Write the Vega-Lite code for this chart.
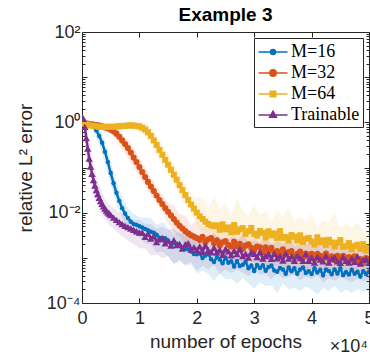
{
  "$schema": "https://vega.github.io/schema/vega-lite/v6.json",
  "width": 287,
  "height": 271,
  "autosize": {"type": "none"},
  "padding": {"left": 82, "top": 32, "right": 1, "bottom": 53},
  "background": "white",
  "title": {"text": "Example 3", "fontSize": 19, "font": "Liberation Sans", "fontWeight": "bold", "color": "#000000", "offset": -2},
  "config": {
    "view": {"stroke": "#262626", "strokeWidth": 1},
    "axis": {"domainColor": "#262626", "tickColor": "#262626", "labelColor": "#262626", "titleColor": "#262626", "labelFont": "Liberation Sans", "titleFont": "Liberation Sans", "grid": false, "labelFontSize": 18, "titleFontSize": 19, "titleFontWeight": "normal"},
    "legend": {"orient": "top-right", "offset": 6, "title": null, "strokeColor": "#262626", "fillColor": "white", "padding": 3, "cornerRadius": 0,
      "labelFont": "Liberation Serif", "labelFontSize": 18, "labelColor": "#000000", "labelOffset": 12, "rowPadding": 1, "symbolSize": 400, "symbolStrokeWidth": 1.5, "symbolOpacity": 1}
  },
  "datasets": {
    "main": [
      {"s":"M=16","x":0,"y":1.0},{"s":"M=16","x":500,"y":0.955},{"s":"M=16","x":1000,"y":0.912},{"s":"M=16","x":1500,"y":0.871},{"s":"M=16","x":2000,"y":0.794},{"s":"M=16","x":2500,"y":0.661},{"s":"M=16","x":3000,"y":0.501},{"s":"M=16","x":3500,"y":0.355},{"s":"M=16","x":4000,"y":0.224},{"s":"M=16","x":4500,"y":0.132},{"s":"M=16","x":5000,"y":0.0759},{"s":"M=16","x":5500,"y":0.0447},{"s":"M=16","x":6000,"y":0.0275},{"s":"M=16","x":6500,"y":0.0182},{"s":"M=16","x":7000,"y":0.0126},{"s":"M=16","x":7500,"y":0.00955},{"s":"M=16","x":8000,"y":0.00759},{"s":"M=16","x":8500,"y":0.00631},{"s":"M=16","x":9000,"y":0.00562},{"s":"M=16","x":9500,"y":0.00537},{"s":"M=16","x":10000,"y":0.00501},{"s":"M=16","x":10500,"y":0.00468},{"s":"M=16","x":11000,"y":0.00437},{"s":"M=16","x":11500,"y":0.00407},{"s":"M=16","x":12000,"y":0.0038},{"s":"M=16","x":12500,"y":0.0036},{"s":"M=16","x":13000,"y":0.00324},{"s":"M=16","x":13500,"y":0.0028},{"s":"M=16","x":14000,"y":0.00275},{"s":"M=16","x":14500,"y":0.0027},{"s":"M=16","x":15000,"y":0.0024},{"s":"M=16","x":15500,"y":0.0021},{"s":"M=16","x":16000,"y":0.00209},{"s":"M=16","x":16500,"y":0.00205},{"s":"M=16","x":17000,"y":0.00182},{"s":"M=16","x":17500,"y":0.0016},{"s":"M=16","x":18000,"y":0.00158},{"s":"M=16","x":18500,"y":0.00155},{"s":"M=16","x":19000,"y":0.00138},{"s":"M=16","x":19500,"y":0.00122},{"s":"M=16","x":20000,"y":0.0012},
      {"s":"M=16","x":20500,"y":0.00126},{"s":"M=16","x":21000,"y":0.000989},{"s":"M=16","x":21500,"y":0.00112},{"s":"M=16","x":22000,"y":0.00122},{"s":"M=16","x":22500,"y":0.000933},{"s":"M=16","x":23000,"y":0.000804},{"s":"M=16","x":23500,"y":0.00105},{"s":"M=16","x":24000,"y":0.000923},{"s":"M=16","x":24500,"y":0.000759},{"s":"M=16","x":25000,"y":0.00102},{"s":"M=16","x":25500,"y":0.000776},{"s":"M=16","x":26000,"y":0.000841},{"s":"M=16","x":26500,"y":0.000646},{"s":"M=16","x":27000,"y":0.000851},{"s":"M=16","x":27500,"y":0.000661},{"s":"M=16","x":28000,"y":0.0007},{"s":"M=16","x":28500,"y":0.000822},{"s":"M=16","x":29000,"y":0.000589},{"s":"M=16","x":29500,"y":0.000676},{"s":"M=16","x":30000,"y":0.000513},{"s":"M=16","x":30500,"y":0.000697},{"s":"M=16","x":31000,"y":0.000597},{"s":"M=16","x":31500,"y":0.00069},{"s":"M=16","x":32000,"y":0.000515},{"s":"M=16","x":32500,"y":0.000624},{"s":"M=16","x":33000,"y":0.000673},{"s":"M=16","x":33500,"y":0.000526},{"s":"M=16","x":34000,"y":0.000494},{"s":"M=16","x":34500,"y":0.000598},{"s":"M=16","x":35000,"y":0.00055},{"s":"M=16","x":35500,"y":0.000444},{"s":"M=16","x":36000,"y":0.000608},{"s":"M=16","x":36500,"y":0.000502},{"s":"M=16","x":37000,"y":0.000586},{"s":"M=16","x":37500,"y":0.000442},{"s":"M=16","x":38000,"y":0.000552},{"s":"M=16","x":38500,"y":0.000615},{"s":"M=16","x":39000,"y":0.000463},{"s":"M=16","x":39500,"y":0.000505},{"s":"M=16","x":40000,"y":0.000437},{"s":"M=16","x":40500,"y":0.000586},{"s":"M=16","x":41000,"y":0.000474},{"s":"M=16","x":41500,"y":0.000542},{"s":"M=16","x":42000,"y":0.000409},{"s":"M=16","x":42500,"y":0.00055},{"s":"M=16","x":43000,"y":0.00051},{"s":"M=16","x":43500,"y":0.000433},{"s":"M=16","x":44000,"y":0.000555},{"s":"M=16","x":44500,"y":0.000449},{"s":"M=16","x":45000,"y":0.000589},{"s":"M=16","x":45500,"y":0.000414},{"s":"M=16","x":46000,"y":0.000483},{"s":"M=16","x":46500,"y":0.000428},{"s":"M=16","x":47000,"y":0.000547},{"s":"M=16","x":47500,"y":0.000442},{"s":"M=16","x":48000,"y":0.000492},{"s":"M=16","x":48500,"y":0.000388},{"s":"M=16","x":49000,"y":0.000508},{"s":"M=16","x":49500,"y":0.00044},{"s":"M=16","x":50000,"y":0.00049},

      {"s":"M=32","x":0,"y":1.0},{"s":"M=32","x":500,"y":0.955},{"s":"M=32","x":1000,"y":0.933},{"s":"M=32","x":1500,"y":0.912},{"s":"M=32","x":2000,"y":0.891},{"s":"M=32","x":2500,"y":0.871},{"s":"M=32","x":3000,"y":0.851},{"s":"M=32","x":3500,"y":0.813},{"s":"M=32","x":4000,"y":0.776},{"s":"M=32","x":4500,"y":0.741},{"s":"M=32","x":5000,"y":0.692},{"s":"M=32","x":5500,"y":0.631},{"s":"M=32","x":6000,"y":0.562},{"s":"M=32","x":6500,"y":0.479},{"s":"M=32","x":7000,"y":0.398},{"s":"M=32","x":7500,"y":0.331},{"s":"M=32","x":8000,"y":0.269},{"s":"M=32","x":8500,"y":0.214},{"s":"M=32","x":9000,"y":0.166},{"s":"M=32","x":9500,"y":0.132},{"s":"M=32","x":10000,"y":0.102},{"s":"M=32","x":10500,"y":0.0794},{"s":"M=32","x":11000,"y":0.0617},{"s":"M=32","x":11500,"y":0.0479},{"s":"M=32","x":12000,"y":0.038},{"s":"M=32","x":12500,"y":0.0302},{"s":"M=32","x":13000,"y":0.024},{"s":"M=32","x":13500,"y":0.0191},{"s":"M=32","x":14000,"y":0.0155},{"s":"M=32","x":14500,"y":0.0126},{"s":"M=32","x":15000,"y":0.0105},{"s":"M=32","x":15500,"y":0.0087},{"s":"M=32","x":16000,"y":0.00724},{"s":"M=32","x":16500,"y":0.00603},{"s":"M=32","x":17000,"y":0.00513},{"s":"M=32","x":17500,"y":0.00447},{"s":"M=32","x":18000,"y":0.00389},{"s":"M=32","x":18500,"y":0.00347},{"s":"M=32","x":19000,"y":0.00316},{"s":"M=32","x":19500,"y":0.00295},{"s":"M=32","x":20000,"y":0.00275},
      {"s":"M=32","x":20500,"y":0.0025},{"s":"M=32","x":21000,"y":0.00292},{"s":"M=32","x":21500,"y":0.00221},{"s":"M=32","x":22000,"y":0.00258},{"s":"M=32","x":22500,"y":0.00275},{"s":"M=32","x":23000,"y":0.00213},{"s":"M=32","x":23500,"y":0.00243},{"s":"M=32","x":24000,"y":0.00188},{"s":"M=32","x":24500,"y":0.0022},{"s":"M=32","x":25000,"y":0.00234},{"s":"M=32","x":25500,"y":0.00195},{"s":"M=32","x":26000,"y":0.00178},{"s":"M=32","x":26500,"y":0.00229},{"s":"M=32","x":27000,"y":0.00178},{"s":"M=32","x":27500,"y":0.00204},{"s":"M=32","x":28000,"y":0.00158},{"s":"M=32","x":28500,"y":0.00186},{"s":"M=32","x":29000,"y":0.002},{"s":"M=32","x":29500,"y":0.00166},{"s":"M=32","x":30000,"y":0.00148},{"s":"M=32","x":30500,"y":0.00178},{"s":"M=32","x":31000,"y":0.0017},{"s":"M=32","x":31500,"y":0.00132},{"s":"M=32","x":32000,"y":0.0017},{"s":"M=32","x":32500,"y":0.00141},{"s":"M=32","x":33000,"y":0.00166},{"s":"M=32","x":33500,"y":0.00129},{"s":"M=32","x":34000,"y":0.00141},{"s":"M=32","x":34500,"y":0.00117},{"s":"M=32","x":35000,"y":0.00155},{"s":"M=32","x":35500,"y":0.00121},{"s":"M=32","x":36000,"y":0.00134},{"s":"M=32","x":36500,"y":0.00141},{"s":"M=32","x":37000,"y":0.0011},{"s":"M=32","x":37500,"y":0.00122},{"s":"M=32","x":38000,"y":0.00137},{"s":"M=32","x":38500,"y":0.001},{"s":"M=32","x":39000,"y":0.00124},{"s":"M=32","x":39500,"y":0.00109},{"s":"M=32","x":40000,"y":0.00123},{"s":"M=32","x":40500,"y":0.000966},{"s":"M=32","x":41000,"y":0.00123},{"s":"M=32","x":41500,"y":0.00111},{"s":"M=32","x":42000,"y":0.000977},{"s":"M=32","x":42500,"y":0.00124},{"s":"M=32","x":43000,"y":0.000977},{"s":"M=32","x":43500,"y":0.00108},{"s":"M=32","x":44000,"y":0.000891},{"s":"M=32","x":44500,"y":0.00111},{"s":"M=32","x":45000,"y":0.000977},{"s":"M=32","x":45500,"y":0.00111},{"s":"M=32","x":46000,"y":0.000871},{"s":"M=32","x":46500,"y":0.00104},{"s":"M=32","x":47000,"y":0.000912},{"s":"M=32","x":47500,"y":0.00108},{"s":"M=32","x":48000,"y":0.000851},{"s":"M=32","x":48500,"y":0.000944},{"s":"M=32","x":49000,"y":0.000776},{"s":"M=32","x":49500,"y":0.000989},{"s":"M=32","x":50000,"y":0.000933},

      {"s":"M=64","x":0,"y":1.0},{"s":"M=64","x":500,"y":0.933},{"s":"M=64","x":1000,"y":0.891},{"s":"M=64","x":1500,"y":0.851},{"s":"M=64","x":2000,"y":0.832},{"s":"M=64","x":2500,"y":0.813},{"s":"M=64","x":3000,"y":0.794},{"s":"M=64","x":3500,"y":0.794},{"s":"M=64","x":4000,"y":0.794},{"s":"M=64","x":4500,"y":0.794},{"s":"M=64","x":5000,"y":0.794},{"s":"M=64","x":5500,"y":0.794},{"s":"M=64","x":6000,"y":0.813},{"s":"M=64","x":6500,"y":0.813},{"s":"M=64","x":7000,"y":0.832},{"s":"M=64","x":7500,"y":0.832},{"s":"M=64","x":8000,"y":0.851},{"s":"M=64","x":8500,"y":0.851},{"s":"M=64","x":9000,"y":0.851},{"s":"M=64","x":9500,"y":0.832},{"s":"M=64","x":10000,"y":0.813},{"s":"M=64","x":10500,"y":0.759},{"s":"M=64","x":11000,"y":0.692},{"s":"M=64","x":11500,"y":0.603},{"s":"M=64","x":12000,"y":0.501},{"s":"M=64","x":12500,"y":0.398},{"s":"M=64","x":13000,"y":0.316},{"s":"M=64","x":13500,"y":0.245},{"s":"M=64","x":14000,"y":0.191},{"s":"M=64","x":14500,"y":0.148},{"s":"M=64","x":15000,"y":0.115},{"s":"M=64","x":15500,"y":0.0891},{"s":"M=64","x":16000,"y":0.0692},{"s":"M=64","x":16500,"y":0.0537},{"s":"M=64","x":17000,"y":0.0407},{"s":"M=64","x":17500,"y":0.0316},{"s":"M=64","x":18000,"y":0.0245},{"s":"M=64","x":18500,"y":0.0191},{"s":"M=64","x":19000,"y":0.0151},{"s":"M=64","x":19500,"y":0.0123},{"s":"M=64","x":20000,"y":0.01},{"s":"M=64","x":20500,"y":0.00832},{"s":"M=64","x":21000,"y":0.00724},{"s":"M=64","x":21500,"y":0.00631},{"s":"M=64","x":22000,"y":0.00562},{"s":"M=64","x":22500,"y":0.00525},{"s":"M=64","x":23000,"y":0.00501},
      {"s":"M=64","x":23500,"y":0.00525},{"s":"M=64","x":24000,"y":0.00418},{"s":"M=64","x":24500,"y":0.00552},{"s":"M=64","x":25000,"y":0.0043},{"s":"M=64","x":25500,"y":0.00472},{"s":"M=64","x":26000,"y":0.00367},{"s":"M=64","x":26500,"y":0.00532},{"s":"M=64","x":27000,"y":0.00378},{"s":"M=64","x":27500,"y":0.00425},{"s":"M=64","x":28000,"y":0.00456},{"s":"M=64","x":28500,"y":0.00339},{"s":"M=64","x":29000,"y":0.0039},{"s":"M=64","x":29500,"y":0.00459},{"s":"M=64","x":30000,"y":0.00341},{"s":"M=64","x":30500,"y":0.00312},{"s":"M=64","x":31000,"y":0.00394},{"s":"M=64","x":31500,"y":0.0036},{"s":"M=64","x":32000,"y":0.0028},{"s":"M=64","x":32500,"y":0.00387},{"s":"M=64","x":33000,"y":0.00315},{"s":"M=64","x":33500,"y":0.00347},{"s":"M=64","x":34000,"y":0.00276},{"s":"M=64","x":34500,"y":0.00391},{"s":"M=64","x":35000,"y":0.00277},{"s":"M=64","x":35500,"y":0.00291},{"s":"M=64","x":36000,"y":0.00243},{"s":"M=64","x":36500,"y":0.00321},{"s":"M=64","x":37000,"y":0.00293},{"s":"M=64","x":37500,"y":0.00244},{"s":"M=64","x":38000,"y":0.00315},{"s":"M=64","x":38500,"y":0.00224},{"s":"M=64","x":39000,"y":0.00264},{"s":"M=64","x":39500,"y":0.00277},{"s":"M=64","x":40000,"y":0.00231},{"s":"M=64","x":40500,"y":0.00197},{"s":"M=64","x":41000,"y":0.00285},{"s":"M=64","x":41500,"y":0.00222},{"s":"M=64","x":42000,"y":0.00244},{"s":"M=64","x":42500,"y":0.00194},{"s":"M=64","x":43000,"y":0.00251},{"s":"M=64","x":43500,"y":0.00219},{"s":"M=64","x":44000,"y":0.00178},{"s":"M=64","x":44500,"y":0.00215},{"s":"M=64","x":45000,"y":0.00247},{"s":"M=64","x":45500,"y":0.00175},{"s":"M=64","x":46000,"y":0.0018},{"s":"M=64","x":46500,"y":0.00212},{"s":"M=64","x":47000,"y":0.00154},{"s":"M=64","x":47500,"y":0.00181},{"s":"M=64","x":48000,"y":0.00195},{"s":"M=64","x":48500,"y":0.00158},{"s":"M=64","x":49000,"y":0.002},{"s":"M=64","x":49500,"y":0.00145},{"s":"M=64","x":50000,"y":0.00167},

      {"s":"Trainable","x":0,"y":1.318},{"s":"Trainable","x":250,"y":1.202},{"s":"Trainable","x":500,"y":0.794},{"s":"Trainable","x":750,"y":0.447},{"s":"Trainable","x":1000,"y":0.263},{"s":"Trainable","x":1250,"y":0.158},{"s":"Trainable","x":1500,"y":0.105},{"s":"Trainable","x":1750,"y":0.0724},{"s":"Trainable","x":2000,"y":0.0525},{"s":"Trainable","x":2250,"y":0.0398},{"s":"Trainable","x":2500,"y":0.0316},{"s":"Trainable","x":2750,"y":0.0257},{"s":"Trainable","x":3000,"y":0.0214},{"s":"Trainable","x":3250,"y":0.0182},{"s":"Trainable","x":3500,"y":0.0158},{"s":"Trainable","x":3750,"y":0.0138},{"s":"Trainable","x":4000,"y":0.0123},{"s":"Trainable","x":4250,"y":0.0112},{"s":"Trainable","x":4500,"y":0.0102},{"s":"Trainable","x":4750,"y":0.00955},{"s":"Trainable","x":5000,"y":0.00891},{"s":"Trainable","x":5500,"y":0.00776},{"s":"Trainable","x":6000,"y":0.00692},{"s":"Trainable","x":6500,"y":0.00617},{"s":"Trainable","x":7000,"y":0.00562},{"s":"Trainable","x":7500,"y":0.00513},{"s":"Trainable","x":8000,"y":0.00479},{"s":"Trainable","x":8500,"y":0.00447},{"s":"Trainable","x":9000,"y":0.00417},{"s":"Trainable","x":9500,"y":0.00389},{"s":"Trainable","x":10000,"y":0.00363},
      {"s":"Trainable","x":10500,"y":0.00365},{"s":"Trainable","x":11000,"y":0.00292},{"s":"Trainable","x":11500,"y":0.00344},{"s":"Trainable","x":12000,"y":0.00269},{"s":"Trainable","x":12500,"y":0.00302},{"s":"Trainable","x":13000,"y":0.00224},{"s":"Trainable","x":13500,"y":0.00257},{"s":"Trainable","x":14000,"y":0.00275},{"s":"Trainable","x":14500,"y":0.00211},{"s":"Trainable","x":15000,"y":0.0024},{"s":"Trainable","x":15500,"y":0.00188},{"s":"Trainable","x":16000,"y":0.00245},{"s":"Trainable","x":16500,"y":0.00193},{"s":"Trainable","x":17000,"y":0.00204},{"s":"Trainable","x":17500,"y":0.0016},{"s":"Trainable","x":18000,"y":0.002},{"s":"Trainable","x":18500,"y":0.00212},{"s":"Trainable","x":19000,"y":0.00153},{"s":"Trainable","x":19500,"y":0.00171},{"s":"Trainable","x":20000,"y":0.00148},{"s":"Trainable","x":20500,"y":0.00179},{"s":"Trainable","x":21000,"y":0.00136},{"s":"Trainable","x":21500,"y":0.00189},{"s":"Trainable","x":22000,"y":0.00147},{"s":"Trainable","x":22500,"y":0.00132},{"s":"Trainable","x":23000,"y":0.00167},{"s":"Trainable","x":23500,"y":0.00133},{"s":"Trainable","x":24000,"y":0.0015},{"s":"Trainable","x":24500,"y":0.00117},{"s":"Trainable","x":25000,"y":0.00158},{"s":"Trainable","x":25500,"y":0.00139},{"s":"Trainable","x":26000,"y":0.00114},{"s":"Trainable","x":26500,"y":0.00144},{"s":"Trainable","x":27000,"y":0.00121},{"s":"Trainable","x":27500,"y":0.00157},{"s":"Trainable","x":28000,"y":0.00109},{"s":"Trainable","x":28500,"y":0.00123},{"s":"Trainable","x":29000,"y":0.00101},{"s":"Trainable","x":29500,"y":0.00134},{"s":"Trainable","x":30000,"y":0.00123},{"s":"Trainable","x":30500,"y":0.00104},{"s":"Trainable","x":31000,"y":0.00135},{"s":"Trainable","x":31500,"y":0.000966},{"s":"Trainable","x":32000,"y":0.0011},{"s":"Trainable","x":32500,"y":0.00122},{"s":"Trainable","x":33000,"y":0.000955},{"s":"Trainable","x":33500,"y":0.00124},{"s":"Trainable","x":34000,"y":0.000977},{"s":"Trainable","x":34500,"y":0.00108},{"s":"Trainable","x":35000,"y":0.000871},{"s":"Trainable","x":35500,"y":0.00125},{"s":"Trainable","x":36000,"y":0.000959},{"s":"Trainable","x":36500,"y":0.00109},{"s":"Trainable","x":37000,"y":0.000859},{"s":"Trainable","x":37500,"y":0.00112},{"s":"Trainable","x":38000,"y":0.000991},{"s":"Trainable","x":38500,"y":0.000855},{"s":"Trainable","x":39000,"y":0.00122},{"s":"Trainable","x":39500,"y":0.000859},{"s":"Trainable","x":40000,"y":0.001},{"s":"Trainable","x":40500,"y":0.000791},{"s":"Trainable","x":41000,"y":0.00104},{"s":"Trainable","x":41500,"y":0.00092},{"s":"Trainable","x":42000,"y":0.000836},{"s":"Trainable","x":42500,"y":0.0011},{"s":"Trainable","x":43000,"y":0.000791},{"s":"Trainable","x":43500,"y":0.000946},{"s":"Trainable","x":44000,"y":0.00103},{"s":"Trainable","x":44500,"y":0.000836},{"s":"Trainable","x":45000,"y":0.000776},{"s":"Trainable","x":45500,"y":0.00104},{"s":"Trainable","x":46000,"y":0.000863},{"s":"Trainable","x":46500,"y":0.000783},{"s":"Trainable","x":47000,"y":0.000982},{"s":"Trainable","x":47500,"y":0.000813},{"s":"Trainable","x":48000,"y":0.00107},{"s":"Trainable","x":48500,"y":0.000752},{"s":"Trainable","x":49000,"y":0.0009},{"s":"Trainable","x":49500,"y":0.000938},{"s":"Trainable","x":50000,"y":0.000776}
    ],
    "band": [
      {"s":"M=16","x":0,"lo":0.912,"hi":1.096},{"s":"M=16","x":1000,"lo":0.813,"hi":1.023},{"s":"M=16","x":2000,"lo":0.661,"hi":0.955},{"s":"M=16","x":3000,"lo":0.316,"hi":0.759},{"s":"M=16","x":4000,"lo":0.126,"hi":0.38},{"s":"M=16","x":5000,"lo":0.0417,"hi":0.138},{"s":"M=16","x":6000,"lo":0.0158,"hi":0.0501},{"s":"M=16","x":7000,"lo":0.00759,"hi":0.0219},{"s":"M=16","x":8000,"lo":0.00447,"hi":0.0126},{"s":"M=16","x":9000,"lo":0.00339,"hi":0.00955},{"s":"M=16","x":10000,"lo":0.00282,"hi":0.00794},{"s":"M=16","x":11000,"lo":0.00209,"hi":0.00776},{"s":"M=16","x":12000,"lo":0.002,"hi":0.00759},{"s":"M=16","x":13000,"lo":0.00129,"hi":0.00537},{"s":"M=16","x":14000,"lo":0.00138,"hi":0.00617},{"s":"M=16","x":15000,"lo":0.00107,"hi":0.00457},{"s":"M=16","x":16000,"lo":0.000741,"hi":0.00331},{"s":"M=16","x":17000,"lo":0.000912,"hi":0.0038},{"s":"M=16","x":18000,"lo":0.000661,"hi":0.00288},{"s":"M=16","x":19000,"lo":0.000724,"hi":0.00347},{"s":"M=16","x":20000,"lo":0.000457,"hi":0.00209},{"s":"M=16","x":21000,"lo":0.000519,"hi":0.00221},{"s":"M=16","x":22000,"lo":0.000452,"hi":0.00172},{"s":"M=16","x":23000,"lo":0.000305,"hi":0.00221},{"s":"M=16","x":24000,"lo":0.000452,"hi":0.00172},{"s":"M=16","x":25000,"lo":0.000331,"hi":0.00148},{"s":"M=16","x":26000,"lo":0.000351,"hi":0.00207},{"s":"M=16","x":27000,"lo":0.000263,"hi":0.00148},{"s":"M=16","x":28000,"lo":0.000351,"hi":0.00122},{"s":"M=16","x":29000,"lo":0.000275,"hi":0.00145},{"s":"M=16","x":30000,"lo":0.000209,"hi":0.00117},{"s":"M=16","x":31000,"lo":0.000286,"hi":0.00147},{"s":"M=16","x":32000,"lo":0.000236,"hi":0.000982},{"s":"M=16","x":33000,"lo":0.00025,"hi":0.00117},{"s":"M=16","x":34000,"lo":0.000167,"hi":0.00106},{"s":"M=16","x":35000,"lo":0.000269,"hi":0.00151},{"s":"M=16","x":36000,"lo":0.000201,"hi":0.000942},{"s":"M=16","x":37000,"lo":0.000218,"hi":0.00104},{"s":"M=16","x":38000,"lo":0.000183,"hi":0.00115},{"s":"M=16","x":39000,"lo":0.000232,"hi":0.000883},{"s":"M=16","x":40000,"lo":0.0002,"hi":0.00126},{"s":"M=16","x":41000,"lo":0.000157,"hi":0.000946},{"s":"M=16","x":42000,"lo":0.000215,"hi":0.00105},{"s":"M=16","x":43000,"lo":0.000185,"hi":0.000887},{"s":"M=16","x":44000,"lo":0.000242,"hi":0.00116},{"s":"M=16","x":45000,"lo":0.000166,"hi":0.000955},{"s":"M=16","x":46000,"lo":0.000197,"hi":0.000839},{"s":"M=16","x":47000,"lo":0.000169,"hi":0.00122},{"s":"M=16","x":48000,"lo":0.000205,"hi":0.000875},{"s":"M=16","x":49000,"lo":0.00018,"hi":0.000946},{"s":"M=16","x":50000,"lo":0.000195,"hi":0.000891},

      {"s":"M=32","x":0,"lo":0.891,"hi":1.122},{"s":"M=32","x":1000,"lo":0.832,"hi":1.047},{"s":"M=32","x":2000,"lo":0.776,"hi":1.023},{"s":"M=32","x":3000,"lo":0.724,"hi":1.0},{"s":"M=32","x":4000,"lo":0.631,"hi":0.933},{"s":"M=32","x":5000,"lo":0.525,"hi":0.871},{"s":"M=32","x":6000,"lo":0.38,"hi":0.759},{"s":"M=32","x":7000,"lo":0.251,"hi":0.575},{"s":"M=32","x":8000,"lo":0.158,"hi":0.417},{"s":"M=32","x":9000,"lo":0.1,"hi":0.263},{"s":"M=32","x":10000,"lo":0.0631,"hi":0.166},{"s":"M=32","x":11000,"lo":0.038,"hi":0.1},{"s":"M=32","x":12000,"lo":0.024,"hi":0.0603},{"s":"M=32","x":13000,"lo":0.0151,"hi":0.038},{"s":"M=32","x":14000,"lo":0.00977,"hi":0.0251},{"s":"M=32","x":15000,"lo":0.00589,"hi":0.0166},{"s":"M=32","x":16000,"lo":0.00363,"hi":0.0145},{"s":"M=32","x":17000,"lo":0.00309,"hi":0.00933},{"s":"M=32","x":18000,"lo":0.00174,"hi":0.0087},{"s":"M=32","x":19000,"lo":0.00166,"hi":0.00525},{"s":"M=32","x":20000,"lo":0.00138,"hi":0.00692},{"s":"M=32","x":21000,"lo":0.00104,"hi":0.00497},{"s":"M=32","x":22000,"lo":0.00139,"hi":0.00492},{"s":"M=32","x":23000,"lo":0.00112,"hi":0.00658},{"s":"M=32","x":24000,"lo":0.00116,"hi":0.00393},{"s":"M=32","x":25000,"lo":0.000912,"hi":0.00447},{"s":"M=32","x":26000,"lo":0.001,"hi":0.00398},{"s":"M=32","x":27000,"lo":0.00105,"hi":0.00603},{"s":"M=32","x":28000,"lo":0.000724,"hi":0.00339},{"s":"M=32","x":29000,"lo":0.000871,"hi":0.00389},{"s":"M=32","x":30000,"lo":0.000776,"hi":0.00331},{"s":"M=32","x":31000,"lo":0.000832,"hi":0.00417},{"s":"M=32","x":32000,"lo":0.000631,"hi":0.00288},{"s":"M=32","x":33000,"lo":0.000813,"hi":0.00331},{"s":"M=32","x":34000,"lo":0.000617,"hi":0.00275},{"s":"M=32","x":35000,"lo":0.000661,"hi":0.00398},{"s":"M=32","x":36000,"lo":0.000485,"hi":0.00232},{"s":"M=32","x":37000,"lo":0.000649,"hi":0.0027},{"s":"M=32","x":38000,"lo":0.000573,"hi":0.00239},{"s":"M=32","x":39000,"lo":0.000506,"hi":0.00291},{"s":"M=32","x":40000,"lo":0.000562,"hi":0.00214},{"s":"M=32","x":41000,"lo":0.000589,"hi":0.00263},{"s":"M=32","x":42000,"lo":0.000427,"hi":0.00224},{"s":"M=32","x":43000,"lo":0.000525,"hi":0.00288},{"s":"M=32","x":44000,"lo":0.000468,"hi":0.00204},{"s":"M=32","x":45000,"lo":0.000525,"hi":0.00224},{"s":"M=32","x":46000,"lo":0.000407,"hi":0.00182},{"s":"M=32","x":47000,"lo":0.000479,"hi":0.0024},{"s":"M=32","x":48000,"lo":0.000417,"hi":0.00186},{"s":"M=32","x":49000,"lo":0.000468,"hi":0.00209},{"s":"M=32","x":50000,"lo":0.000389,"hi":0.00191},

      {"s":"M=64","x":0,"lo":0.871,"hi":1.148},{"s":"M=64","x":1000,"lo":0.759,"hi":1.072},{"s":"M=64","x":2000,"lo":0.692,"hi":1.047},{"s":"M=64","x":3000,"lo":0.661,"hi":1.0},{"s":"M=64","x":4000,"lo":0.661,"hi":1.0},{"s":"M=64","x":5000,"lo":0.661,"hi":1.0},{"s":"M=64","x":6000,"lo":0.676,"hi":1.023},{"s":"M=64","x":7000,"lo":0.692,"hi":1.047},{"s":"M=64","x":8000,"lo":0.708,"hi":1.072},{"s":"M=64","x":9000,"lo":0.692,"hi":1.096},{"s":"M=64","x":10000,"lo":0.631,"hi":1.072},{"s":"M=64","x":11000,"lo":0.479,"hi":1.0},{"s":"M=64","x":12000,"lo":0.316,"hi":0.794},{"s":"M=64","x":13000,"lo":0.191,"hi":0.525},{"s":"M=64","x":14000,"lo":0.112,"hi":0.331},{"s":"M=64","x":15000,"lo":0.0661,"hi":0.2},{"s":"M=64","x":16000,"lo":0.0398,"hi":0.12},{"s":"M=64","x":17000,"lo":0.0234,"hi":0.0708},{"s":"M=64","x":18000,"lo":0.0141,"hi":0.0437},{"s":"M=64","x":19000,"lo":0.00891,"hi":0.0275},{"s":"M=64","x":20000,"lo":0.00562,"hi":0.02},{"s":"M=64","x":21000,"lo":0.00363,"hi":0.0229},{"s":"M=64","x":22000,"lo":0.00339,"hi":0.0126},{"s":"M=64","x":23000,"lo":0.00224,"hi":0.0224},{"s":"M=64","x":24000,"lo":0.00246,"hi":0.0118},{"s":"M=64","x":25000,"lo":0.00225,"hi":0.016},{"s":"M=64","x":26000,"lo":0.00243,"hi":0.00861},{"s":"M=64","x":27000,"lo":0.00198,"hi":0.0207},{"s":"M=64","x":28000,"lo":0.00208,"hi":0.0112},{"s":"M=64","x":29000,"lo":0.0017,"hi":0.00853},{"s":"M=64","x":30000,"lo":0.00201,"hi":0.0146},{"s":"M=64","x":31000,"lo":0.00176,"hi":0.00881},{"s":"M=64","x":32000,"lo":0.00194,"hi":0.0106},{"s":"M=64","x":33000,"lo":0.00151,"hi":0.00644},{"s":"M=64","x":34000,"lo":0.00163,"hi":0.011},{"s":"M=64","x":35000,"lo":0.00149,"hi":0.00838},{"s":"M=64","x":36000,"lo":0.00127,"hi":0.0127},{"s":"M=64","x":37000,"lo":0.0015,"hi":0.00612},{"s":"M=64","x":38000,"lo":0.00132,"hi":0.0083},{"s":"M=64","x":39000,"lo":0.00132,"hi":0.00632},{"s":"M=64","x":40000,"lo":0.0011,"hi":0.00962},{"s":"M=64","x":41000,"lo":0.0013,"hi":0.00462},{"s":"M=64","x":42000,"lo":0.00111,"hi":0.00703},{"s":"M=64","x":43000,"lo":0.00102,"hi":0.00601},{"s":"M=64","x":44000,"lo":0.0011,"hi":0.0103},{"s":"M=64","x":45000,"lo":0.000984,"hi":0.0044},{"s":"M=64","x":46000,"lo":0.000841,"hi":0.00596},{"s":"M=64","x":47000,"lo":0.000948,"hi":0.00454},{"s":"M=64","x":48000,"lo":0.000869,"hi":0.00615},{"s":"M=64","x":49000,"lo":0.000914,"hi":0.00372},{"s":"M=64","x":50000,"lo":0.000764,"hi":0.0045},

      {"s":"Trainable","x":0,"lo":1.047,"hi":1.66},{"s":"Trainable","x":1000,"lo":0.126,"hi":0.501},{"s":"Trainable","x":2000,"lo":0.0251,"hi":0.112},{"s":"Trainable","x":3000,"lo":0.0112,"hi":0.0398},{"s":"Trainable","x":4000,"lo":0.00708,"hi":0.02},{"s":"Trainable","x":5000,"lo":0.00501,"hi":0.0141},{"s":"Trainable","x":6000,"lo":0.00389,"hi":0.011},{"s":"Trainable","x":7000,"lo":0.00295,"hi":0.00933},{"s":"Trainable","x":8000,"lo":0.0024,"hi":0.00851},{"s":"Trainable","x":9000,"lo":0.002,"hi":0.00692},{"s":"Trainable","x":10000,"lo":0.00162,"hi":0.00692},{"s":"Trainable","x":11000,"lo":0.0016,"hi":0.00569},{"s":"Trainable","x":12000,"lo":0.00112,"hi":0.00562},{"s":"Trainable","x":13000,"lo":0.0012,"hi":0.00447},{"s":"Trainable","x":14000,"lo":0.000977,"hi":0.0049},{"s":"Trainable","x":15000,"lo":0.0011,"hi":0.00407},{"s":"Trainable","x":16000,"lo":0.000724,"hi":0.00457},{"s":"Trainable","x":17000,"lo":0.000851,"hi":0.00339},{"s":"Trainable","x":18000,"lo":0.000708,"hi":0.00355},{"s":"Trainable","x":19000,"lo":0.000804,"hi":0.00403},{"s":"Trainable","x":20000,"lo":0.000525,"hi":0.00288},{"s":"Trainable","x":21000,"lo":0.000667,"hi":0.00327},{"s":"Trainable","x":22000,"lo":0.00056,"hi":0.00281},{"s":"Trainable","x":23000,"lo":0.000711,"hi":0.00356},{"s":"Trainable","x":24000,"lo":0.000433,"hi":0.00273},{"s":"Trainable","x":25000,"lo":0.00055,"hi":0.0024},{"s":"Trainable","x":26000,"lo":0.000463,"hi":0.00286},{"s":"Trainable","x":27000,"lo":0.000552,"hi":0.00247},{"s":"Trainable","x":28000,"lo":0.000476,"hi":0.00315},{"s":"Trainable","x":29000,"lo":0.000393,"hi":0.00221},{"s":"Trainable","x":30000,"lo":0.000525,"hi":0.00245},{"s":"Trainable","x":31000,"lo":0.000417,"hi":0.00219},{"s":"Trainable","x":32000,"lo":0.000447,"hi":0.00257},{"s":"Trainable","x":33000,"lo":0.000331,"hi":0.00195},{"s":"Trainable","x":34000,"lo":0.000457,"hi":0.00234},{"s":"Trainable","x":35000,"lo":0.000355,"hi":0.002},{"s":"Trainable","x":36000,"lo":0.000391,"hi":0.00247},{"s":"Trainable","x":37000,"lo":0.000421,"hi":0.00184},{"s":"Trainable","x":38000,"lo":0.000313,"hi":0.00212},{"s":"Trainable","x":39000,"lo":0.000387,"hi":0.00194},{"s":"Trainable","x":40000,"lo":0.000339,"hi":0.00219},{"s":"Trainable","x":41000,"lo":0.000404,"hi":0.0018},{"s":"Trainable","x":42000,"lo":0.000283,"hi":0.00236},{"s":"Trainable","x":43000,"lo":0.000353,"hi":0.00169},{"s":"Trainable","x":44000,"lo":0.000312,"hi":0.00201},{"s":"Trainable","x":45000,"lo":0.00038,"hi":0.00174},{"s":"Trainable","x":46000,"lo":0.000328,"hi":0.00217},{"s":"Trainable","x":47000,"lo":0.000283,"hi":0.00183},{"s":"Trainable","x":48000,"lo":0.000353,"hi":0.00199},{"s":"Trainable","x":49000,"lo":0.000305,"hi":0.00167},{"s":"Trainable","x":50000,"lo":0.000331,"hi":0.00186}
    ],
    "note": [{"x": 50000, "y": 0.0001, "t": "×10⁴"}]
  },
  "layer": [
    {
      "data": {"name": "band"},
      "mark": {"type": "area", "opacity": 0.12, "clip": true, "interpolate": "linear"},
      "encoding": {
        "x": {"field": "x", "type": "quantitative", "scale": {"domain": [0, 50000], "nice": false, "zero": false},
          "axis": {"orient": "bottom", "values": [0, 10000, 20000, 30000, 40000, 50000], "labelExpr": "format(datum.value/10000, 'd')", "tickSize": -5, "labelPadding": 11, "labelFlush": false, "title": "number of epochs", "titlePadding": 5, "domain": false}},
        "y": {"field": "lo", "type": "quantitative", "scale": {"type": "log", "domain": [0.0001, 100], "nice": false},
          "axis": {"orient": "left", "domain": false,
            "values": [0.0001,0.0002,0.0003,0.0004,0.0005,0.0006,0.0007,0.0008,0.0009,0.001,0.002,0.003,0.004,0.005,0.006,0.007,0.008,0.009,0.01,0.02,0.03,0.04,0.05,0.06,0.07,0.08,0.09,0.1,0.2,0.3,0.4,0.5,0.6,0.7,0.8,0.9,1,2,3,4,5,6,7,8,9,10,20,30,40,50,60,70,80,90,100],
            "labelExpr": "datum.value == 100 ? '10²' : datum.value == 1 ? '10⁰' : datum.value == 0.01 ? '10⁻²' : datum.value == 0.0001 ? '10⁻⁴' : ''",
            "tickSize": {"condition": {"test": "abs(log(datum.value)/LN10 - round(log(datum.value)/LN10)) < 0.001", "value": -5}, "value": -3},
            "labelPadding": 7, "labelOverlap": false, "title": "relative L² error", "titlePadding": 11}},
        "y2": {"field": "hi"},
        "color": {"field": "s", "type": "nominal", "scale": {"domain": ["M=16", "M=32", "M=64", "Trainable"], "range": ["#0072BD", "#D95319", "#EDB120", "#7E2F8E"]},
          "legend": {"orient": "top-right",
            "encoding": {"symbols": {
              "shape": {"value": {"expr": "datum.value === 'M=16' ? 'M-0.95,0H1.95M0.75,0A0.25,0.25,0,1,1,0.25,0A0.25,0.25,0,1,1,0.75,0Z' : datum.value === 'M=32' ? 'M-0.95,0H1.95M0.82,0A0.32,0.32,0,1,1,0.18,0A0.32,0.32,0,1,1,0.82,0Z' : datum.value === 'M=64' ? 'M-0.95,0H1.95M0.22,-0.28H0.78V0.28H0.22Z' : 'M-0.95,0H1.95M0.5,-0.38L0.84,0.22H0.16Z'"}},
              "size": {"value": 400},
              "fill": {"value": {"expr": "scale('color', datum.value)"}},
              "stroke": {"value": {"expr": "scale('color', datum.value)"}},
              "strokeWidth": {"value": 1.5},
              "opacity": {"value": 1}
            }}}
        }
      }
    },
    {
      "data": {"name": "main"},
      "mark": {"type": "line", "strokeWidth": 2.5, "clip": true},
      "encoding": {
        "x": {"field": "x", "type": "quantitative",
          "axis": {"orient": "top", "values": [10000, 20000, 30000, 40000], "labels": false, "tickSize": -5, "title": null, "domain": false}},
        "y": {"field": "y", "type": "quantitative",
          "axis": {"orient": "right", "domain": false, "labels": false, "title": null,
            "values": [0.0001,0.0002,0.0003,0.0004,0.0005,0.0006,0.0007,0.0008,0.0009,0.001,0.002,0.003,0.004,0.005,0.006,0.007,0.008,0.009,0.01,0.02,0.03,0.04,0.05,0.06,0.07,0.08,0.09,0.1,0.2,0.3,0.4,0.5,0.6,0.7,0.8,0.9,1,2,3,4,5,6,7,8,9,10,20,30,40,50,60,70,80,90,100],
            "tickSize": {"condition": {"test": "abs(log(datum.value)/LN10 - round(log(datum.value)/LN10)) < 0.001", "value": -5}, "value": -3}}},
        "color": {"field": "s", "type": "nominal"}
      }
    },
    {
      "data": {"name": "main"},
      "transform": [{"filter": "datum.s === 'M=16'"}],
      "mark": {"type": "point", "shape": "circle", "size": 20, "filled": true, "opacity": 1, "clip": true},
      "encoding": {
        "x": {"field": "x", "type": "quantitative", "axis": null},
        "y": {"field": "y", "type": "quantitative", "axis": null},
        "color": {"field": "s", "type": "nominal"}
      }
    },
    {
      "data": {"name": "main"},
      "transform": [{"filter": "datum.s === 'M=32'"}],
      "mark": {"type": "point", "shape": "circle", "size": 38, "filled": true, "opacity": 1, "clip": true},
      "encoding": {
        "x": {"field": "x", "type": "quantitative", "axis": null},
        "y": {"field": "y", "type": "quantitative", "axis": null},
        "color": {"field": "s", "type": "nominal"}
      }
    },
    {
      "data": {"name": "main"},
      "transform": [{"filter": "datum.s === 'M=64'"}],
      "mark": {"type": "point", "shape": "square", "size": 36, "filled": true, "opacity": 1, "clip": true},
      "encoding": {
        "x": {"field": "x", "type": "quantitative", "axis": null},
        "y": {"field": "y", "type": "quantitative", "axis": null},
        "color": {"field": "s", "type": "nominal"}
      }
    },
    {
      "data": {"name": "main"},
      "transform": [{"filter": "datum.s === 'Trainable'"}],
      "mark": {"type": "point", "shape": "triangle-up", "size": 55, "filled": true, "opacity": 1, "clip": true},
      "encoding": {
        "x": {"field": "x", "type": "quantitative", "axis": null},
        "y": {"field": "y", "type": "quantitative", "axis": null},
        "color": {"field": "s", "type": "nominal"}
      }
    },
    {
      "data": {"name": "note"},
      "mark": {"type": "text", "align": "right", "baseline": "middle", "dy": 44, "dx": -1, "fontSize": 18, "font": "Liberation Sans", "color": "#262626", "clip": false},
      "encoding": {
        "x": {"field": "x", "type": "quantitative", "axis": null},
        "y": {"field": "y", "type": "quantitative", "axis": null},
        "text": {"field": "t"}
      }
    }
  ],
  "resolve": {"axis": {"x": "independent", "y": "independent"}}
}
